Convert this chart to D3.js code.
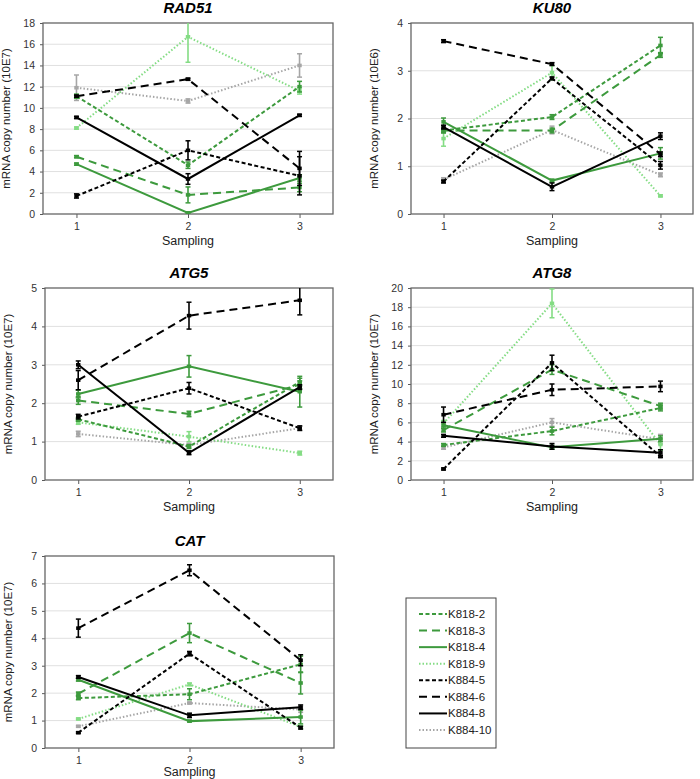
<!DOCTYPE html>
<html><head><meta charset="utf-8">
<script src="https://cdn.jsdelivr.net/npm/d3@7"></script>
<style>body{margin:0;background:#fff}svg{font-family:"Liberation Sans",Arial,sans-serif}</style>
</head><body><svg id="c" width="700" height="779"></svg>
<script>
const samplings = [1, 2, 3];
const seriesNames = ["K818-2","K818-3","K818-4","K818-9","K884-5","K884-6","K884-8","K884-10"];

const rad51Values = [[11.1,4.6,12.0],[5.4,1.8,2.5],[4.7,0.1,3.4],[8.1,16.7,11.6],[1.7,6.0,3.6],[11.1,12.7,4.3],[9.1,3.3,9.3],[11.9,10.65,14.0]];
const rad51Errors = [[0.2,0.3,0.5],[0.1,0.75,0.4],[0.1,0.1,0.3],[0.1,2.4,0.3],[0.2,0.9,1.8],[0.1,0.1,1.6],[0.1,0.5,0.1],[1.2,0.2,1.1]];
const ku80Values = [[1.75,2.03,3.53],[1.75,1.75,3.33],[1.93,0.70,1.27],[1.58,2.96,0.38],[0.68,2.84,1.02],[3.62,3.14,1.25],[1.82,0.57,1.63],[0.72,1.76,0.82]];
const ku80Errors = [[0.05,0.05,0.17],[0.05,0.05,0.05],[0.08,0.03,0.12],[0.16,0.15,0.02],[0.03,0.03,0.08],[0.03,0.03,0.05],[0.04,0.08,0.07],[0.04,0.08,0.04]];
const atg5Values = [[1.58,0.87,2.55],[2.07,1.72,2.48],[2.24,2.96,2.3],[1.5,1.13,0.7],[1.65,2.39,1.35],[2.6,4.28,4.68],[3.0,0.71,2.42],[1.2,0.91,1.35]];
const atg5Errors = [[0.05,0.05,0.1],[0.1,0.07,0.1],[0.1,0.28,0.4],[0.05,0.13,0.05],[0.06,0.15,0.06],[0.25,0.35,0.38],[0.1,0.05,0.06],[0.07,0.05,0.05]];
const atg8Values = [[3.65,5.1,7.5],[5.2,11.5,7.7],[5.7,3.4,4.3],[5.9,18.4,3.7],[1.15,12.2,2.45],[6.8,9.4,9.75],[4.6,3.5,2.85],[3.4,6.0,4.25]];
const atg8Errors = [[0.15,0.4,0.3],[0.2,0.5,0.3],[0.3,0.2,0.3],[0.3,1.5,0.6],[0.1,0.8,0.1],[0.8,0.6,0.55],[0.15,0.3,0.3],[0.2,0.4,0.5]];
const catValues = [[1.82,1.96,3.05],[1.98,4.19,2.37],[2.49,0.98,1.13],[1.06,2.32,0.77],[0.56,3.44,0.74],[4.37,6.48,3.2],[2.59,1.19,1.49],[0.79,1.64,1.4]];
const catErrors = [[0.06,0.2,0.3],[0.06,0.35,0.4],[0.05,0.03,0.25],[0.03,0.05,0.05],[0.03,0.08,0.05],[0.33,0.2,0.2],[0.05,0.08,0.08],[0.03,0.03,0.1]];

const panelTitles = ["RAD51","KU80","ATG5","ATG8","CAT"];
const yLabels = ["mRNA copy number (10E7)","mRNA copy number (10E6)","mRNA copy number (10E7)","mRNA copy number (10E7)","mRNA copy number (10E7)"];
const yMax = [18, 4, 5, 20, 7];
const yStep = [2, 1, 1, 2, 1];

const styles = [
  {c:"#3d9a3d", d:"4,2.5", w:2},
  {c:"#3d9a3d", d:"8,5", w:2},
  {c:"#3d9a3d", d:null, w:2},
  {c:"#84dc84", d:"1.5,2", w:2},
  {c:"#000000", d:"4,2.5", w:2},
  {c:"#000000", d:"8,5", w:2},
  {c:"#000000", d:null, w:2},
  {c:"#a6a6a6", d:"1.5,2", w:2}
];

const panels = [
  {v:rad51Values, e:rad51Errors, box:[43,23,333,214]},
  {v:ku80Values, e:ku80Errors, box:[411,23,693,214]},
  {v:atg5Values, e:atg5Errors, box:[45,288,333,480]},
  {v:atg8Values, e:atg8Errors, box:[411,288,693,480]},
  {v:catValues, e:catErrors, box:[45,556,334,748]}
];

const svg = d3.select("#c");

panels.forEach((p, pi) => {
  const [x0,y0,x1,y1] = p.box;
  const x = d3.scaleLinear().domain([0.7,3.3]).range([x0,x1]);
  const y = d3.scaleLinear().domain([0,yMax[pi]]).range([y1,y0]);
  const g = svg.append("g");
  const ticks = d3.range(0, yMax[pi]+0.001, yStep[pi]);
  const clipId = "clip"+pi;
  svg.append("clipPath").attr("id",clipId).append("rect").attr("x",x0).attr("y",y0).attr("width",x1-x0).attr("height",y1-y0);
  g.selectAll(".grid").data(ticks.filter(t=>t>0 && t<yMax[pi])).enter().append("line")
    .attr("x1",x0).attr("x2",x1).attr("y1",d=>y(d)).attr("y2",d=>y(d))
    .attr("stroke","#e0e0e0").attr("stroke-width",1);
  const ya = g.append("g").attr("transform",`translate(${x0},0)`).call(d3.axisLeft(y).tickValues(ticks).tickSize(3).tickPadding(5).tickFormat(d3.format("d")));
  ya.select(".domain").remove();
  ya.selectAll("line").attr("stroke","#595959");
  ya.selectAll("text").attr("font-size",10.5).attr("fill","#333").attr("font-family","Liberation Sans, Arial, sans-serif");
  const xa = g.append("g").attr("transform",`translate(0,${y1})`).call(d3.axisBottom(x).tickValues(samplings).tickSize(4).tickPadding(5).tickFormat(d3.format("d")));
  xa.select(".domain").remove();
  xa.selectAll("line").attr("stroke","#595959");
  xa.selectAll("text").attr("font-size",10.5).attr("fill","#333").attr("font-family","Liberation Sans, Arial, sans-serif");
  g.append("rect").attr("x",x0).attr("y",y0).attr("width",x1-x0).attr("height",y1-y0)
    .attr("fill","none").attr("stroke","#666").attr("stroke-width",1.3);
  g.append("text").attr("x",(x0+x1)/2).attr("y",y0-10).attr("text-anchor","middle")
    .attr("font-size",15).attr("font-weight","bold").attr("font-style","italic").text(panelTitles[pi]);
  g.append("text").attr("x",(x0+x1)/2).attr("y",Math.min(y1+31, 776)).attr("text-anchor","middle")
    .attr("font-size",12.5).attr("fill","#222").text("Sampling");
  g.append("text").attr("transform",`translate(${x0-33},${(y0+y1)/2}) rotate(-90)`).attr("text-anchor","middle")
    .attr("font-size",11.5).attr("fill","#222").text(yLabels[pi]);
  const line = d3.line().x((d,i)=>x(samplings[i])).y(d=>y(d));
  const sg = g.append("g").attr("clip-path",`url(#${clipId})`);
  const order = [7,3,0,1,2,4,5,6];
  order.forEach(si => {
    const st = styles[si];
    const vals = p.v[si], errs = p.e[si];
    sg.append("path").datum(vals).attr("d",line).attr("fill","none")
      .attr("stroke",st.c).attr("stroke-width",st.w).attr("stroke-dasharray",st.d);
    vals.forEach((v,i) => {
      const cx = x(samplings[i]);
      const hi = y(v+errs[i]), lo = y(v-errs[i]);
      sg.append("line").attr("x1",cx).attr("x2",cx).attr("y1",hi).attr("y2",lo).attr("stroke",st.c).attr("stroke-width",1.6);
      sg.append("line").attr("x1",cx-2.5).attr("x2",cx+2.5).attr("y1",hi).attr("y2",hi).attr("stroke",st.c).attr("stroke-width",1.5);
      sg.append("line").attr("x1",cx-2.5).attr("x2",cx+2.5).attr("y1",lo).attr("y2",lo).attr("stroke",st.c).attr("stroke-width",1.5);
      sg.append("rect").attr("x",cx-2.2).attr("y",y(v)-1.8).attr("width",4.4).attr("height",3.6).attr("fill",st.c);
    });
  });
});

const lg = svg.append("g");
lg.append("rect").attr("x",406).attr("y",598).attr("width",90).attr("height",150)
  .attr("fill","#fff").attr("stroke","#444").attr("stroke-width",1);
const ly = d3.scalePoint().domain(seriesNames).range([614,730]);
seriesNames.forEach((n,i) => {
  const st = styles[i];
  lg.append("line").attr("x1",419).attr("x2",447).attr("y1",ly(n)).attr("y2",ly(n))
    .attr("stroke",st.c).attr("stroke-width",st.w).attr("stroke-dasharray",st.d);
  lg.append("text").attr("x",448).attr("y",ly(n)+4).attr("font-size",11.5).attr("fill","#222").text(n);
});
</script></body></html>
